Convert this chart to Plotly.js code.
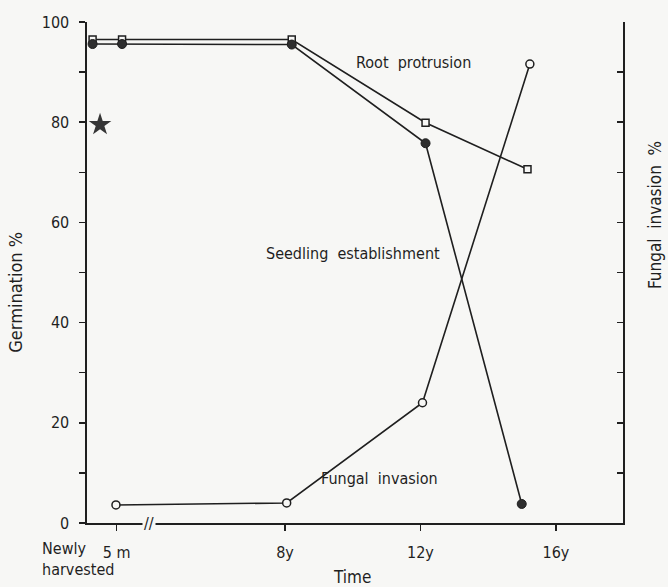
<!DOCTYPE html>
<html>
<head>
<meta charset="utf-8">
<script src="https://cdn.plot.ly/plotly-3.0.1.min.js"></script>
<style>
html,body{margin:0;padding:0;background:#f7f7f5;}
#chart{width:668px;height:587px;}
</style>
</head>
<body>
<div id="chart"></div>
<script>
// Axis positions (years; the part left of the break is compressed)
const xTickVals = [3.03, 8, 12, 16];
const xTickText = ['5 m', '8y', '12y', '16y'];

// Root protrusion (open squares), left axis
const rootX = [2.32, 3.19, 8.2, 12.15, 15.16];
const rootY = [96.5, 96.5, 96.5, 79.9, 70.6];

// Seedling establishment (filled circles), left axis
const seedX = [2.32, 3.19, 8.2, 12.15, 14.99];
const seedY = [95.6, 95.6, 95.5, 75.8, 3.8];

// Fungal invasion (open circles), right axis
const fungX = [3.01, 8.05, 12.06, 15.23];
const fungY = [3.6, 4.0, 24.0, 91.6];

// Single starred point
const starX = [2.54];
const starY = [79.5];

const yTickVals = [0,10,20,30,40,50,60,70,80,90,100];
const yTickText = ['0','','20','','40','','60','','80','','100'];

const FONT = '"Liberation Sans Narrow", "DejaVu Sans Condensed", "Arial Narrow", sans-serif';
const INK = '#1f1f1f';
const BG = '#f7f7f5';

const traces = [
  {x: rootX, y: rootY, mode: 'lines+markers', yaxis: 'y', cliponaxis: false,
   line: {color: INK, width: 1.6},
   marker: {symbol: 'square', size: 7, color: BG, line: {color: INK, width: 1.5}}},
  {x: seedX, y: seedY, mode: 'lines+markers', yaxis: 'y', cliponaxis: false,
   line: {color: INK, width: 1.6},
   marker: {symbol: 'circle', size: 9, color: '#2e2e2e', line: {color: INK, width: 1}}},
  {x: fungX, y: fungY, mode: 'lines+markers', yaxis: 'y2', cliponaxis: false,
   line: {color: INK, width: 1.6},
   marker: {symbol: 'circle', size: 8, color: BG, line: {color: INK, width: 1.5}}},
  {x: starX, y: starY, mode: 'markers', yaxis: 'y', cliponaxis: false,
   marker: {symbol: 'star', size: 17, color: '#363636', line: {width: 0}}}
];

function ann(text, x, y, ref, extra) {
  return Object.assign({text: text, x: x, y: y, xref: ref, yref: ref === 'x' ? 'y' : ref,
    xanchor: 'center', yanchor: 'middle', showarrow: false,
    font: {family: FONT, size: 16, color: INK}}, extra || {});
}

const layout = {
  width: 668, height: 587,
  margin: {l: 87, r: 45, t: 22, b: 64},
  paper_bgcolor: BG, plot_bgcolor: BG,
  showlegend: false,
  font: {family: FONT, size: 16, color: INK},
  xaxis: {
    range: [2.155, 17.98], showgrid: false, zeroline: false,
    showline: true, linecolor: INK, linewidth: 1.6,
    ticks: 'outside', ticklen: 6, tickwidth: 1.5, tickcolor: INK,
    tickmode: 'array', tickvals: xTickVals, ticktext: xTickText,
    ticklabelstandoff: 8,
    tickfont: {family: FONT, size: 16, color: INK}
  },
  yaxis: {
    range: [0, 100], showgrid: false, zeroline: false,
    showline: true, linecolor: INK, linewidth: 1.6,
    ticks: 'outside', ticklen: 6, tickwidth: 1.5, tickcolor: INK,
    tickmode: 'array', tickvals: yTickVals, ticktext: yTickText,
    ticklabelstandoff: 7,
    tickfont: {family: FONT, size: 16, color: INK}
  },
  yaxis2: {
    range: [0, 100], overlaying: 'y', side: 'right',
    showgrid: false, zeroline: false,
    showline: true, linecolor: INK, linewidth: 1.6,
    ticks: 'inside', ticklen: 6, tickwidth: 1.5, tickcolor: INK,
    tickmode: 'array', tickvals: [10,20,30,40,50,60,70,80,90],
    showticklabels: false
  },
  annotations: [
    ann('Root\u00a0\u00a0protrusion', 11.78, 92, 'x'),
    ann('Seedling\u00a0\u00a0establishment', 10.0, 53.7, 'x'),
    ann('Fungal\u00a0\u00a0invasion', 10.8, 8.8, 'x'),
    ann('Germination %', -0.134, 0.46, 'paper',
        {textangle: -90, font: {family: FONT, size: 18, color: INK}}),
    ann('Fungal\u00a0\u00a0invasion\u00a0\u00a0%', 1.06, 0.615, 'paper',
        {textangle: -90, font: {family: FONT, size: 17, color: INK}}),
    ann('Time', 0.494, -0.108, 'paper', {font: {family: FONT, size: 17, color: INK}}),
    ann('Newly<br>harvested', -0.0877, -0.028, 'paper',
        {xanchor: 'left', yanchor: 'top', align: 'left'}),
    ann('//', 4.0, 0, 'x', {bgcolor: BG})
  ]
};

Plotly.newPlot('chart', traces, layout, {displayModeBar: false, staticPlot: true});
</script>
</body>
</html>
